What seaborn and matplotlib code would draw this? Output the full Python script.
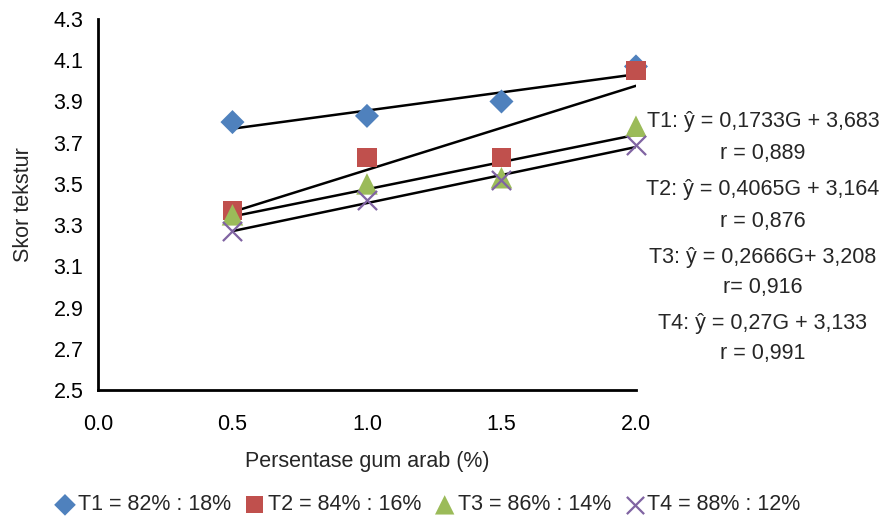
import numpy as np
import pandas as pd
import matplotlib
matplotlib.use("Agg")
import matplotlib.pyplot as plt
import seaborn as sns

# data
gum_arab = [0.5, 1.0, 1.5, 2.0]
t1 = [3.80, 3.83, 3.90, 4.07]
t2 = [3.37, 3.63, 3.63, 4.05]
t3 = [3.35, 3.50, 3.53, 3.78]
t4 = [3.27, 3.42, 3.52, 3.69]
labels = ["T1 = 82% : 18%", "T2 = 84% : 16%", "T3 = 86% : 14%", "T4 = 88% : 12%"]
equations = [
    ("T1: ŷ = 0,1733G + 3,683", "r = 0,889"),
    ("T2: ŷ = 0,4065G + 3,164", "r = 0,876"),
    ("T3: ŷ = 0,2666G+ 3,208", "r= 0,916"),
    ("T4: ŷ = 0,27G + 3,133", "r = 0,991"),
]

colors = ["#4F81BD", "#C0504D", "#9BBB59", "#8064A2"]
markers = ["D", "s", "^", "x"]
sizes = [150, 190, 240, 190]

sns.set_style("white")
plt.rcParams["font.family"] = ["Liberation Sans", "DejaVu Sans"]

df = pd.DataFrame({
    "G": gum_arab * 4,
    "skor": t1 + t2 + t3 + t4,
    "perlakuan": sum([[l] * 4 for l in labels], []),
})

fig = plt.figure(figsize=(8.85, 5.17), dpi=100)
ax = fig.add_axes([0.1107, 0.2456, 0.6079, 0.7176])

for i, lab in enumerate(labels):
    sub = df[df["perlakuan"] == lab]
    # trendline first so markers sit on top
    k, c = np.polyfit(sub["G"], sub["skor"], 1)
    ax.plot([gum_arab[0], gum_arab[-1]], [k * gum_arab[0] + c, k * gum_arab[-1] + c],
            color="black", lw=1.8, zorder=2)
    kw = dict(color=colors[i], marker=markers[i], s=sizes[i], zorder=3, label=lab, clip_on=False)
    if markers[i] == "x":
        kw["linewidth"] = 1.6
    else:
        kw["edgecolor"] = "none"
    sns.scatterplot(data=sub, x="G", y="skor", ax=ax, **kw)

ax.set_xlim(0, 2.0)
ax.set_ylim(2.5, 4.3)
ax.set_xticks(np.arange(0, 2.01, 0.5))
ax.set_yticks(np.round(np.arange(2.5, 4.31, 0.2), 1))
ax.set_xticklabels([f"{v:.1f}" for v in np.arange(0, 2.01, 0.5)])
ax.set_yticklabels([f"{v:.1f}" for v in np.arange(2.5, 4.31, 0.2)])
ax.tick_params(axis="both", direction="out", length=7, width=2, labelsize=15.5, colors="black")
ax.tick_params(axis="x", pad=10)
for s in ["top", "right"]:
    ax.spines[s].set_visible(False)
for s in ["left", "bottom"]:
    ax.spines[s].set_linewidth(2)
    ax.spines[s].set_color("black")
ax.set_xlabel("Persentase gum arab (%)", fontsize=15.5, labelpad=12)
ax.set_ylabel("Skor tekstur", fontsize=15.5, labelpad=14)

leg = ax.legend(loc="center", bbox_to_anchor=(0.483, 1 - 505 / 517), bbox_transform=fig.transFigure,
                ncol=4, frameon=False, fontsize=15.5, handletextpad=0.1, columnspacing=0.6,
                handlelength=1.0, markerscale=0.9, borderpad=0)

ys = [122, 190, 257, 323]
for (eq, r), y in zip(equations, ys):
    fig.text(763 / 885, 1 - y / 517, eq, ha="center", va="center", fontsize=15.5)
    fig.text(763 / 885, 1 - (y + 31) / 517, r, ha="center", va="center", fontsize=15.5)

fig.savefig("out.png", dpi=100)
